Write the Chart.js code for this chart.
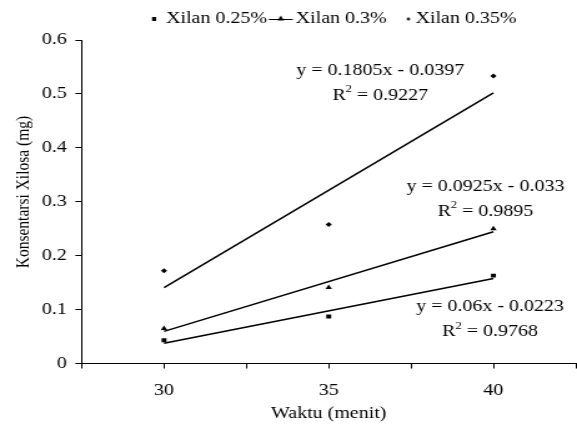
<!DOCTYPE html>
<html lang="id">
<head>
  <meta charset="UTF-8" />
  <title>Konsentrasi Xilosa</title>
  <script src="https://cdn.jsdelivr.net/npm/chart.js@4"></script>
  <style>
    body {
      margin: 0;
      background: #fff;
      overflow: hidden;
    }
    /* the original figure is stretched sideways, so stretch the canvas the same way */
    #chart {
      display: block;
      transform: scaleX(1.2489);
      transform-origin: 0 0;
    }
  </style>
</head>
<body>
  <canvas id="chart" width="462" height="430"></canvas>

  <script>
    const waktu = ['30', '35', '40'];
    const seriesNames = ['Xilan 0.25%', 'Xilan 0.3%', 'Xilan 0.35%'];
    const xilan025 = [0.043, 0.087, 0.163];
    const xilan03 = [0.065, 0.141, 0.250];
    const xilan035 = [0.172, 0.258, 0.533];

    // linear trendlines, value at the first and the last point
    const trend025 = [0.0377, 0.1577];
    const trend03 = [0.0595, 0.2445];
    const trend035 = [0.1408, 0.5018];

    const equations = ['y = 0.06x - 0.0223', 'y = 0.0925x - 0.033', 'y = 0.1805x - 0.0397'];
    const rSquared = ['0.9768', '0.9895', '0.9227'];
    const yTicks = [0, 0.1, 0.2, 0.3, 0.4, 0.5, 0.6];

    const FONT = '"Liberation Serif", "Times New Roman", serif';
    Chart.defaults.font.family = FONT;
    Chart.defaults.font.size = 16;
    Chart.defaults.color = '#000';

    // where the equation boxes sit, in axis units
    const labelAnchors = [
      { x: 2.980, y: 0.105 },
      { x: 2.952, y: 0.328 },
      { x: 2.313, y: 0.543 }
    ];

    const xTickValues = waktu.flatMap((_, i) => [i + 0.5, i + 1]).concat(waktu.length + 0.5);

    const toPoints = (vals) => vals.map((v, i) => ({ x: i + 1, y: v }));
    const trendPoints = (ends) => [{ x: 1, y: ends[0] }, { x: waktu.length, y: ends[1] }];

    function legendIcon(kind) {
      const c = document.createElement('canvas');
      c.width = 34;
      c.height = 12;
      const g = c.getContext('2d');
      const mid = 17, cy = 6;
      g.fillStyle = '#000';
      g.strokeStyle = '#000';
      if (kind === 'square') {
        g.fillRect(mid + 4.4 - 1.6, cy - 2, 3.2, 4);
      } else if (kind === 'triangle') {
        g.lineWidth = 1;
        g.beginPath();
        g.moveTo(mid - 7.6, cy + 0.5);
        g.lineTo(mid + 11.6, cy + 0.5);
        g.stroke();
        g.beginPath();
        g.moveTo(mid + 2, cy - 3.5);
        g.lineTo(mid + 4.6, cy + 1.5);
        g.lineTo(mid - 0.6, cy + 1.5);
        g.closePath();
        g.fill();
      } else {
        g.beginPath();
        g.moveTo(mid + 8.3, cy - 2);
        g.lineTo(mid + 9.8, cy);
        g.lineTo(mid + 8.3, cy + 2);
        g.lineTo(mid + 6.8, cy);
        g.closePath();
        g.fill();
      }
      return c;
    }
    const legendIcons = [legendIcon('square'), legendIcon('triangle'), legendIcon('diamond')];

    // push the plot area a little further below the legend
    const legendGap = {
      id: 'legendGap',
      beforeInit(chart) {
        const fit = chart.legend.fit;
        chart.legend.fit = function () {
          fit.bind(chart.legend)();
          this.height += 3;
        };
      }
    };

    const trendLabels = {
      id: 'trendLabels',
      afterDatasetsDraw(chart) {
        const { ctx, scales: { x, y } } = chart;
        ctx.save();
        ctx.fillStyle = '#000';
        ctx.textBaseline = 'middle';
        equations.forEach((eq, i) => {
          const px = x.getPixelForValue(labelAnchors[i].x);
          const py = y.getPixelForValue(labelAnchors[i].y);
          ctx.font = '16px ' + FONT;
          ctx.textAlign = 'center';
          ctx.fillText(eq, px, py);

          const rest = ' = ' + rSquared[i];
          const wR = ctx.measureText('R').width;
          const wRest = ctx.measureText(rest).width;
          ctx.font = '10px ' + FONT;
          const w2 = ctx.measureText('2').width;
          const left = px - (wR + w2 + wRest) / 2;
          const ry = py + 25;
          ctx.textAlign = 'left';
          ctx.fillText('2', left + wR, ry - 6);
          ctx.font = '16px ' + FONT;
          ctx.fillText('R', left, ry);
          ctx.fillText(rest, left + wR + w2, ry);
        });
        ctx.restore();
      }
    };

    const markerSet = (label, vals, style, radius) => ({
      label: label,
      data: toPoints(vals),
      pointStyle: style,
      pointRadius: radius,
      backgroundColor: '#000',
      borderColor: '#000',
      borderWidth: 0,
      showLine: false
    });

    const trendSet = (ends) => ({
      label: 'trend',
      data: trendPoints(ends),
      showLine: true,
      pointRadius: 0,
      borderColor: '#000',
      borderWidth: 1.5
    });

    new Chart(document.getElementById('chart').getContext('2d'), {
      type: 'scatter',
      data: {
        datasets: [
          markerSet(seriesNames[0], xilan025, 'rect', 2.8),
          markerSet(seriesNames[1], xilan03, 'triangle', 3),
          markerSet(seriesNames[2], xilan035, 'rectRot', 2.5),
          trendSet(trend025),
          trendSet(trend03),
          trendSet(trend035)
        ]
      },
      options: {
        responsive: false,
        animation: false,
        events: [],
        layout: {
          autoPadding: false,
          padding: { top: 8, left: 0, right: 1, bottom: 0 }
        },
        plugins: {
          tooltip: { enabled: false },
          legend: {
            position: 'top',
            fullSize: false,
            labels: {
              usePointStyle: true,
              pointStyleWidth: 12,
              padding: 3,
              color: '#000',
              font: { size: 16, family: FONT },
              generateLabels: (chart) => seriesNames.map((name, i) => ({
                text: name,
                datasetIndex: i,
                pointStyle: legendIcons[i],
                fillStyle: '#000',
                strokeStyle: '#000',
                lineWidth: 0,
                hidden: false
              }))
            }
          }
        },
        scales: {
          x: {
            type: 'linear',
            min: 0.5,
            max: waktu.length + 0.5,
            afterBuildTicks: (s) => { s.ticks = xTickValues.map(v => ({ value: v })); },
            afterFit: (s) => {
              s.height = 66.5;
              s.paddingLeft = 0;
              s.paddingRight = 0;
            },
            grid: { drawOnChartArea: false, tickLength: 5, color: '#000' },
            border: { color: '#000' },
            ticks: {
              autoSkip: false,
              maxRotation: 0,
              padding: 13,
              color: '#000',
              callback: (v) => Number.isInteger(v) ? waktu[v - 1] : ''
            },
            title: {
              display: true,
              text: 'Waktu (menit)',
              color: '#000',
              padding: { top: 0, bottom: 7 }
            }
          },
          y: {
            min: 0,
            max: 0.6,
            afterBuildTicks: (s) => { s.ticks = yTicks.map(v => ({ value: v })); },
            afterFit: (s) => {
              s.width = 65.4;
              s.paddingTop = 0;
              s.paddingBottom = 0;
            },
            grid: { drawOnChartArea: false, tickLength: 5, color: '#000' },
            border: { color: '#000' },
            ticks: {
              padding: 7,
              color: '#000',
              callback: (v) => String(v)
            },
            title: {
              display: true,
              text: '     Konsentarsi Xilosa (mg)',
              color: '#000',
              font: { size: 15.5, family: FONT },
              padding: { top: 10, bottom: 0 }
            }
          }
        }
      },
      plugins: [legendGap, trendLabels]
    });
  </script>
</body>
</html>
